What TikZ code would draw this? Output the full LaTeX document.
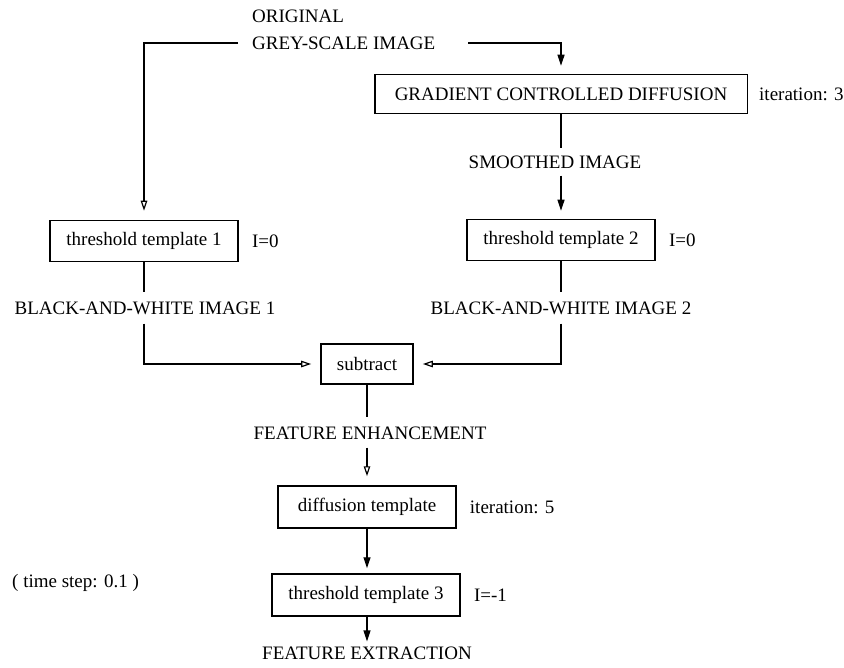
\documentclass[tikz,border=0pt]{standalone}
\usepackage{fontspec}
\setmainfont{Liberation Serif}
\usetikzlibrary{arrows.meta}
\begin{document}
\begin{tikzpicture}[x=1pt,y=-1pt,
  every node/.style={font=\fontsize{19}{21}\selectfont, inner sep=0pt},
  box/.style={draw, line width=1.5pt, minimum height=41pt, inner xsep=16.5pt},
  conn/.style={line width=1.2pt},
  openarr/.style={conn, -{Triangle[open,length=10pt,width=6.5pt]}, shorten >=9pt},
  fillarr/.style={conn, -{Triangle[length=11pt,width=7pt]}, shorten >=8pt},
]
\useasboundingbox (0,0) rectangle (844,668);
% texts and boxes
\node[anchor=west] (orig) at (252,16) {ORIGINAL};
\node[anchor=west] (grey) at (252,43) {GREY-SCALE IMAGE};
\node[box, minimum height=39pt, inner xsep=20pt] (grad) at (561,94) {GRADIENT CONTROLLED DIFFUSION};
\node[anchor=west] (it3) at ([xshift=11pt]grad.east) {iteration: 3};
\node (smooth) at (555,162) {SMOOTHED IMAGE};
\node[box] (th2) at (561,240) {threshold template 2};
\node[anchor=west] (i0b) at ([xshift=13pt]th2.east) {I=0};
\node[box] (th1) at (144,241) {threshold template 1};
\node[anchor=west] (i0a) at ([xshift=13pt]th1.east) {I=0};
\node (bw1) at (145,308) {BLACK-AND-WHITE IMAGE 1};
\node (bw2) at (561,308) {BLACK-AND-WHITE IMAGE 2};
\node[box, minimum height=40pt, inner xsep=16pt] (sub) at (367,364) {subtract};
\node (fenh) at (370,433) {FEATURE ENHANCEMENT};
\node[box, minimum height=42pt, minimum width=178pt] (diff) at (367,507) {diffusion template};
\node[anchor=west] (it5) at ([xshift=13pt]diff.east) {iteration: 5};
\node[box, minimum height=42pt, minimum width=182pt] (th3) at (366,595) {threshold template 3};
\node[anchor=west] (im1) at ([xshift=13pt]th3.east) {I=-1};
\node[anchor=west] (ts) at (12,583) {( time step: 0.1 )};
\node (fext) at (367,653) {FEATURE EXTRACTION};
% connectors
\coordinate (gl) at (238,43);
\coordinate (gr) at (468,43);
\draw[openarr] (gl) -| (th1.north);
\draw[fillarr] (gr) -| (grad.north);
\draw[conn, shorten >=7pt] (grad.south) -- (grad.south |- smooth.north);
\draw[fillarr, shorten <=7pt] (th2.north |- smooth.south) -- (th2.north);
\draw[conn, shorten >=9pt] (th1.south) -- (th1.south |- bw1.north);
\draw[conn, shorten >=9pt] (th2.south) -- (th2.south |- bw2.north);
\draw[openarr, shorten <=9pt] (th1.south |- bw1.south) |- (sub.west);
\draw[openarr, shorten <=9pt] (th2.south |- bw2.south) |- (sub.east);
\draw[conn, shorten >=9pt] (sub.south) -- (sub.south |- fenh.north);
\draw[openarr, shorten <=8pt] (diff.north |- fenh.south) -- (diff.north);
\draw[fillarr, shorten >=5pt] (diff.south) -- (diff.south |- th3.north);
\draw[fillarr, shorten >=5pt] (diff.south |- th3.south) -- (diff.south |- fext.north);
\end{tikzpicture}
\end{document}
